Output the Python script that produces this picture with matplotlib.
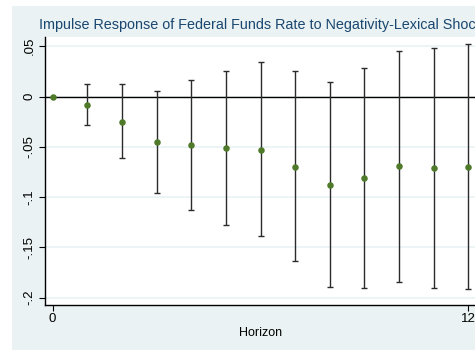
import matplotlib.pyplot as plt
from matplotlib.patches import Rectangle

plt.rcParams['font.family'] = ['Liberation Sans', 'DejaVu Sans']

# Impulse response estimates and confidence bands
horizon = [0, 1, 2, 3, 4, 5, 6, 7, 8, 9, 10, 11, 12]
irf = [0.0, -0.0082, -0.025, -0.0456, -0.0482, -0.0512, -0.0529,
       -0.0698, -0.0877, -0.081, -0.0691, -0.0708, -0.0698]
upper = [0.0, 0.0121, 0.012, 0.0052, 0.0164, 0.025, 0.034,
         0.025, 0.0147, 0.028, 0.0455, 0.0485, 0.0519]
lower = [0.0, -0.0283, -0.0615, -0.0962, -0.1125, -0.1277, -0.139,
         -0.1638, -0.1894, -0.190, -0.184, -0.190, -0.1917]

y_ticks = [-0.2, -0.15, -0.1, -0.05, 0, 0.05]
y_labels = ["-.2", "-.15", "-.1", "-.05", "0", ".05"]

W, H = 475, 350
fig = plt.figure(figsize=(W / 100, H / 100), dpi=100, facecolor="white")

# Stata-style graph region background
fig.patches.append(Rectangle((12 / W, 0), 1, 1 - 6 / H, transform=fig.transFigure,
                             facecolor="#eaf2f3", edgecolor="none", zorder=-5))

left, right, top, bottom = 45.3, 475.7, 37, 305
ax = fig.add_axes([left / W, (H - bottom) / H, (right - left) / W, (bottom - top) / H])
ax.set_zorder(2)
ax.set_facecolor("white")

ax.set_xlim(-0.213, 12.213)
ax.set_ylim(-0.2073, 0.0592)

ax.set_yticks(y_ticks)
ax.set_yticklabels(y_labels, rotation=90, va="center")
ax.set_xticks([0, 12])
ax.grid(axis="y", color="#eaf2f3", linewidth=1.2)
ax.set_axisbelow(True)

ax.axhline(0, color="black", linewidth=1.0, zorder=2)

errs = [[i - l for i, l in zip(irf, lower)], [u - i for i, u in zip(irf, upper)]]
ax.errorbar(horizon[1:], irf[1:], yerr=[errs[0][1:], errs[1][1:]], fmt="none",
            ecolor="#2b2b2b", elinewidth=1.0, capsize=2.5, capthick=1.0, zorder=3)
ax.scatter(horizon, irf, s=22, color="#4e7a2a", zorder=4, linewidths=0)

for s in ["top", "right"]:
    ax.spines[s].set_visible(False)
for s in ["left", "bottom"]:
    ax.spines[s].set_linewidth(1.0)
    ax.spines[s].set_color("black")

ax.tick_params(axis="both", direction="out", length=4, width=0.8, labelsize=9.5, colors="black")
ax.tick_params(axis="y", pad=3)
ax.tick_params(axis="x", pad=2)

ax.set_xlabel("Horizon", fontsize=9, labelpad=1)

fig.text(39 / W, 1 - 25 / H, "Impulse Response of Federal Funds Rate to Negativity-Lexical Shock",
         fontsize=10.35, color="#1a476f", ha="left", va="center", zorder=3)

fig.savefig("out.png", dpi=100)
